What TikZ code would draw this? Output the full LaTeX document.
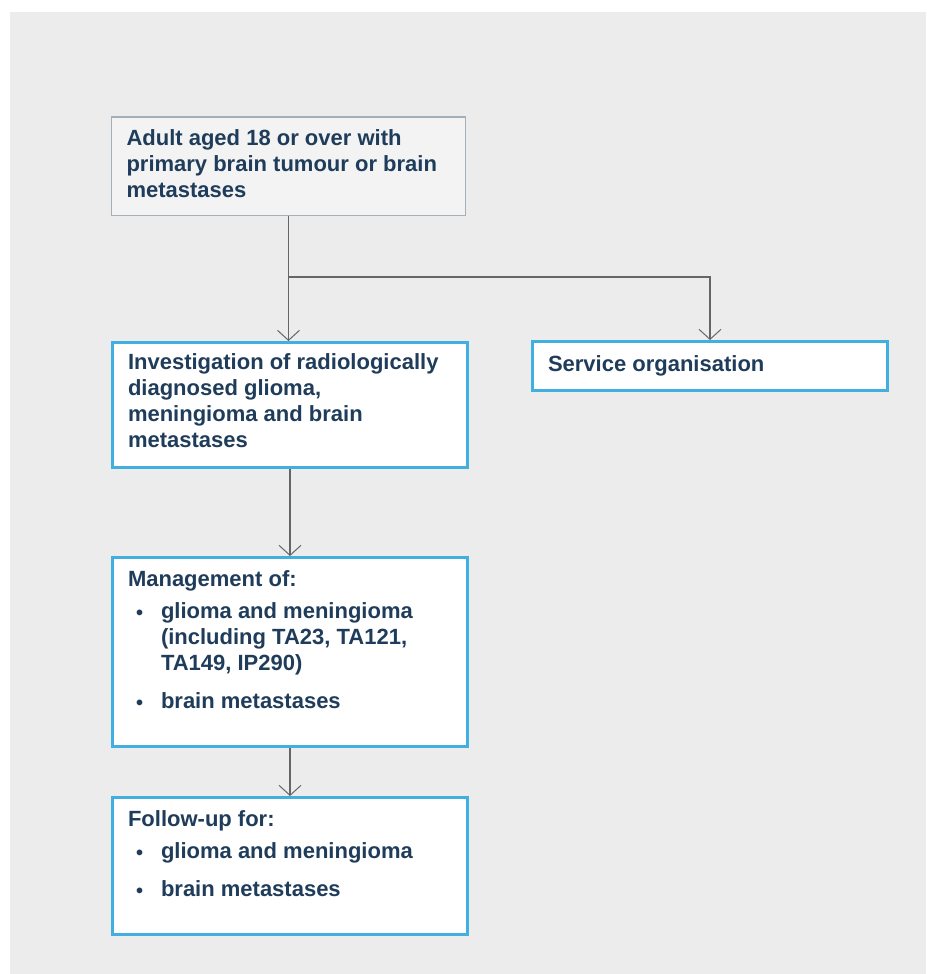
\documentclass[tikz,border=0pt]{standalone}
\usepackage{fontspec}
\setmainfont{Liberation Sans}
\usetikzlibrary{arrows.meta, positioning}
\definecolor{panelgrey}{HTML}{ECECEC}
\definecolor{boxblue}{HTML}{41B0E1}
\definecolor{inkblue}{HTML}{1F3D5B}
\definecolor{startfill}{HTML}{F3F3F3}
\definecolor{startline}{HTML}{A5AFB7}
\definecolor{linkgrey}{HTML}{666666}
\newcommand{\guideitem}[2][12pt]{\par\vspace{#1}\hangindent=33pt\hangafter=1\noindent
  \makebox[33pt][l]{\hspace{8pt}\raisebox{-0.5pt}{\fontsize{20}{20}\selectfont\textbullet}}#2}

\begin{document}
\begin{tikzpicture}[x=1pt,y=-1pt,node distance=2cm]
 \tikzstyle{guidebox}=[rectangle,draw=boxblue,line width=3pt,fill=white,text=inkblue,
   font=\bfseries\fontsize{22}{26}\selectfont,align=flush left,text width=324pt,
   minimum width=355pt,inner xsep=0pt]
 \tikzstyle{startbox}=[guidebox,draw=startline,fill=startfill,line width=1.5pt,
   minimum width=354pt]
 \tikzstyle{link}=[draw=linkgrey,line width=1.5pt,
   -{Straight Barb[length=10pt,width=22pt,line width=1pt]}]
 \useasboundingbox (0,0) rectangle (926,974);
 \fill[panelgrey] (10,12) rectangle (926,974);
 \node (adult) [startbox,minimum height=98.5pt,text depth=57pt] at (288.5,166)
   {Adult aged 18 or over with primary brain tumour or brain metastases};
 \node (investigation) [guidebox,minimum height=125pt,text depth=87pt,
   below=125pt of adult,xshift=1.5pt]
   {Investigation of radiologically diagnosed glioma, meningioma and brain metastases};
 \node (service) [guidebox,minimum height=49pt,
   right=62pt of investigation.north east,anchor=north west,yshift=1pt]
   {Service organisation};
 \node (management) [guidebox,minimum height=189pt,text depth=146pt,
   below=87pt of investigation]
   {Management of:\guideitem[6pt]{glioma and meningioma (including TA23, TA121, TA149, IP290)}%
    \guideitem{brain metastases}};
 \node (followup) [guidebox,minimum height=137pt,text depth=94pt,
   below=48pt of management]
   {Follow-up for:\guideitem[6pt]{glioma and meningioma}\guideitem{brain metastases}};
 \coordinate (split) at ([yshift=-61pt]adult.south);
 \draw[link] (adult.south) -- (adult.south |- investigation.north);
 \draw[link] (split) -| (service.north);
 \draw[link] (investigation) -- (management);
 \draw[link] (management) -- (followup);
\end{tikzpicture}
\end{document}
